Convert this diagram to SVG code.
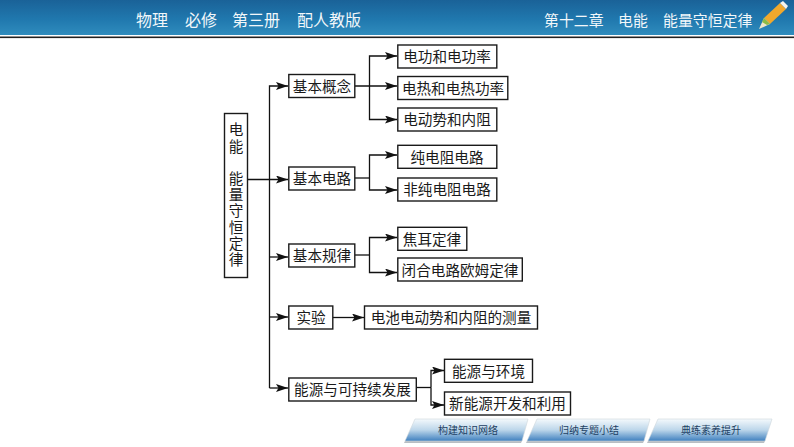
<svg xmlns="http://www.w3.org/2000/svg" width="794" height="447" viewBox="0 0 794 447">
<style>
text{font-family:"Noto Sans CJK SC","Noto Sans",sans-serif}
.b{fill:#fff;stroke:#1a1a1a;stroke-width:1.4}
.t{font-size:14.6px;fill:#1a1a1a;text-anchor:middle;dominant-baseline:central}
.v{font-size:14.6px;fill:#1a1a1a;writing-mode:vertical-rl;letter-spacing:1.6px}
.h{font-size:16px;fill:#f2f7fa;dominant-baseline:central}
.h2{font-size:14.9px;fill:#f2f7fa;dominant-baseline:central}
.l{font-size:10px;fill:#1d3f63;text-anchor:middle;dominant-baseline:central}
.c{fill:none;stroke:#111;stroke-width:1.3}
.tab{fill:url(#tg);stroke:#cfd6dc;stroke-width:.6}
.sh{fill:#9aa3aa;opacity:.7}
</style>
<defs>
<linearGradient id="hg" x1="0" y1="0" x2="0" y2="1"><stop offset="0" stop-color="#1a6298"/><stop offset=".55" stop-color="#2078ae"/><stop offset="1" stop-color="#2f8cbd"/></linearGradient>
<linearGradient id="tg" x1="0" y1="0" x2="0" y2="1"><stop offset="0" stop-color="#f4f9fc"/><stop offset=".5" stop-color="#bcd6ea"/><stop offset="1" stop-color="#3f80bf"/></linearGradient>
<marker id="a" viewBox="0 0 12 8" refX="12" refY="4" markerWidth="12" markerHeight="8" markerUnits="userSpaceOnUse" orient="auto"><path d="M0 0L12 4L0 8L2.500 4Z" fill="#111"/></marker>
</defs>
<g id="header">
<rect width="794" height="35" fill="url(#hg)"/>
<rect y="36.500" width="794" height="1.600" fill="#222"/>
<text class="h" x="136" y="19">物理</text>
<text class="h" x="185" y="19">必修</text>
<text class="h" x="232" y="19">第三册</text>
<text class="h" x="297" y="19">配人教版</text>
<text class="h2" x="544" y="19">第十二章</text>
<text class="h2" x="618" y="19">电能</text>
<text class="h2" x="663" y="19">能量守恒定律</text>
<g id="pencil">
<polygon points="764,18 780,3 786,9 770,24" fill="#f0a82c"/>
<polygon points="764,18 770,24 759,29" fill="#efe6c8"/>
<polygon points="764,18 770,24 767,25 762,22" fill="#8dbb45"/>
<polygon points="780,3 783,1 788,6 786,9" fill="#f4f4ee"/>
</g>
</g>
<g id="connectors">
<path class="c" marker-end="url(#a)" d="M269.500 388H288"/>
<path class="c" marker-end="url(#a)" d="M269.500 388V86H288"/>
<path class="c" marker-end="url(#a)" d="M248 179.500H288"/>
<path class="c" marker-end="url(#a)" d="M269.500 257H288"/>
<path class="c" marker-end="url(#a)" d="M269.500 317H288"/>
<path class="c" marker-end="url(#a)" d="M355 86H397"/>
<path class="c" marker-end="url(#a)" d="M369.500 86V56H397"/>
<path class="c" marker-end="url(#a)" d="M369.500 86V119.500H397"/>
<path class="c" d="M355 178H369.500"/>
<path class="c" marker-end="url(#a)" d="M369.500 178V155H397"/>
<path class="c" marker-end="url(#a)" d="M369.500 178V190H397"/>
<path class="c" d="M355 255H369.500"/>
<path class="c" marker-end="url(#a)" d="M369.500 255V237.500H397"/>
<path class="c" marker-end="url(#a)" d="M369.500 255V272.500H397"/>
<path class="c" marker-end="url(#a)" d="M333 317.500H364"/>
<path class="c" d="M416.500 387.500H431"/>
<path class="c" marker-end="url(#a)" d="M431 387.500V370.500H444"/>
<path class="c" marker-end="url(#a)" d="M431 387.500V405H444"/>
</g>
<g id="root"><rect class="b" x="224.500" y="113.500" width="23" height="164"/>
<text class="v" x="236" y="122.500">电能　能量守恒定律</text></g>
<g id="n1"><rect class="b" x="288.800" y="74.500" width="66" height="23"/><text class="t" x="322" y="85.500">基本概念</text></g>
<g id="n2"><rect class="b" x="288.800" y="167" width="66" height="23"/><text class="t" x="322" y="177.500">基本电路</text></g>
<g id="n3"><rect class="b" x="288.800" y="244" width="66" height="23"/><text class="t" x="322" y="254.500">基本规律</text></g>
<g id="n4"><rect class="b" x="288.800" y="306" width="44" height="23"/><text class="t" x="311" y="316.500">实验</text></g>
<g id="n5"><rect class="b" x="288.800" y="378" width="127.500" height="23"/><text class="t" x="352.500" y="388.500">能源与可持续发展</text></g>
<g id="n11"><rect class="b" x="397.800" y="45" width="99" height="23"/><text class="t" x="447" y="55.500">电功和电功率</text></g>
<g id="n12"><rect class="b" x="397.800" y="76.500" width="110" height="23"/><text class="t" x="453" y="87">电热和电热功率</text></g>
<g id="n13"><rect class="b" x="397.800" y="108" width="99" height="23"/><text class="t" x="447" y="118.500">电动势和内阻</text></g>
<g id="n21"><rect class="b" x="397.800" y="145.300" width="99" height="23"/><text class="t" x="447" y="156">纯电阻电路</text></g>
<g id="n22"><rect class="b" x="397.800" y="178" width="99" height="23"/><text class="t" x="447" y="188.500">非纯电阻电路</text></g>
<g id="n31"><rect class="b" x="397.800" y="227.300" width="69" height="23"/><text class="t" x="432" y="238">焦耳定律</text></g>
<g id="n32"><rect class="b" x="397.800" y="258" width="124.500" height="23"/><text class="t" x="460" y="269">闭合电路欧姆定律</text></g>
<g id="n41"><rect class="b" x="364.500" y="306" width="173" height="23"/><text class="t" x="451" y="316.500">电池电动势和内阻的测量</text></g>
<g id="n51"><rect class="b" x="444.500" y="359.300" width="88" height="23"/><text class="t" x="488.500" y="370">能源与环境</text></g>
<g id="n52"><rect class="b" x="444.500" y="392" width="126" height="23"/><text class="t" x="507.500" y="402.500">新能源开发和利用</text></g>
<g id="tabs">
<polygon class="sh" points="405,441 522,441 521,443 404,443"/>
<polygon class="sh" points="527,441 644,441 643,443 526,443"/>
<polygon class="sh" points="648,441 765,441 764,443 647,443"/>
<polygon class="tab" points="415,419 528,419 522,441 405,441"/>
<polygon class="tab" points="537,419 650,419 644,441 527,441"/>
<polygon class="tab" points="658,419 772,419 765,441 648,441"/>
<text class="l" x="468" y="429.500">构建知识网络</text>
<text class="l" x="589" y="429.500">归纳专题小结</text>
<text class="l" x="711" y="429.500">典练素养提升</text>
</g>
</svg>
